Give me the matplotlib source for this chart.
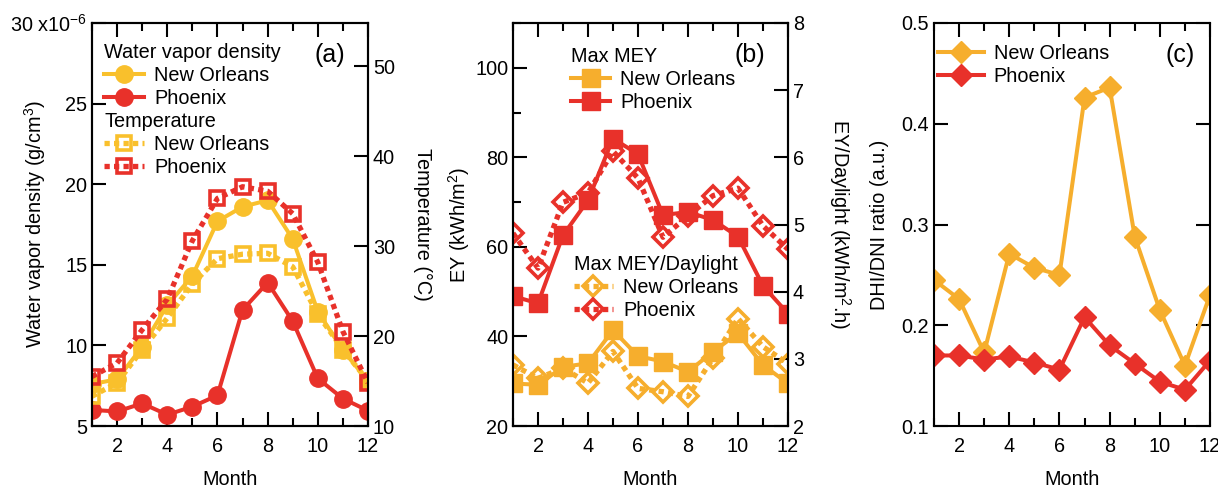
import matplotlib
matplotlib.use("Agg")
import matplotlib.pyplot as plt
from matplotlib.ticker import FixedLocator, FixedFormatter, MultipleLocator

plt.rcParams['font.family'] = ['Liberation Sans', 'DejaVu Sans']
plt.rcParams['mathtext.fontset'] = 'custom'
plt.rcParams['mathtext.rm'] = 'Liberation Sans'
plt.rcParams['mathtext.it'] = 'Liberation Sans:italic'

####### data

months = list(range(1, 13))

# (a) water vapor density (x1e-6 g/cm3) and temperature (C)
wv_no = [7.6, 7.9, 9.9, 12.5, 14.3, 17.7, 18.6, 19.0, 16.6, 12.1, 9.7, 7.8]
wv_ph = [6.0, 5.9, 6.4, 5.7, 6.2, 6.9, 12.2, 13.9, 11.5, 7.95, 6.7, 5.95]
temp_no = [13.3, 14.8, 18.5, 22.0, 25.8, 28.6, 29.1, 29.2, 27.7, 22.4, 18.5, 15.0]
temp_ph = [15.5, 17.0, 20.7, 24.1, 30.6, 35.3, 36.6, 36.1, 33.6, 28.2, 20.5, 14.8]

# (b) max MEY (kWh/m2) and max MEY / daylight (kWh/m2.h)
mey_no = [29.5, 29.2, 33.2, 34.0, 41.4, 35.6, 34.4, 32.1, 36.6, 40.7, 33.6, 29.5]
mey_ph = [49.0, 47.4, 62.6, 70.4, 84.2, 80.7, 67.1, 67.8, 66.0, 62.3, 51.3, 45.1]
meyd_no = [2.91, 2.71, 2.86, 2.64, 3.11, 2.56, 2.51, 2.44, 3.01, 3.60, 3.18, 2.93]
meyd_ph = [4.87, 4.35, 5.33, 5.47, 6.09, 5.69, 4.81, 5.13, 5.43, 5.54, 4.98, 4.63]

# (c) DHI/DNI ratio
ratio_no = [0.245, 0.226, 0.173, 0.271, 0.257, 0.250, 0.426, 0.436, 0.288, 0.215, 0.160, 0.230]
ratio_ph = [0.170, 0.170, 0.166, 0.169, 0.163, 0.156, 0.208, 0.180, 0.162, 0.144, 0.136, 0.165]

yellow = '#F9C02C'
orange = '#F6AE2D'
red = '#E8312A'

FS = 14.3
TFS = 14.3
LW = 2.9
dots = (0, (1.0, 0.8))

fig = plt.figure(figsize=(12.18, 4.9), dpi=100)
bot, top = 1 - 426 / 490, 1 - 23 / 490
axa = fig.add_axes([92 / 1218, bot, 276 / 1218, top - bot])
axb = fig.add_axes([513 / 1218, bot, 275 / 1218, top - bot])
axc = fig.add_axes([934 / 1218, bot, 276 / 1218, top - bot])
axa2 = axa.twinx()
axb2 = axb.twinx()


def style(ax):
    for s in ax.spines.values():
        s.set_linewidth(1.5)
    ax.tick_params(which='both', direction='in', width=1.5, labelsize=TFS)
    ax.tick_params(which='major', length=10)
    ax.tick_params(which='minor', length=6)


def xstyle(ax):
    ax.set_xlim(1, 12)
    ax.xaxis.set_major_locator(MultipleLocator(2))
    ax.xaxis.set_minor_locator(MultipleLocator(1))
    ax.tick_params(axis='x', which='both', top=True, pad=8)
    ax.set_xlabel('Month', fontsize=FS, labelpad=10)


def ylab(ax, text, x, rot=90):
    ax.set_ylabel(text, fontsize=FS, rotation=rot)
    ax.yaxis.label.set_verticalalignment('center')
    ax.yaxis.set_label_coords(x, 0.5)


####### (a)
axa.plot(months, wv_no, '-o', color=yellow, lw=LW, ms=12.5, label='New Orleans')
axa.plot(months, wv_ph, '-o', color=red, lw=LW, ms=12.5, label='Phoenix')
axa2.plot(months, temp_no, 's', ls=dots, color=yellow, lw=3.8, ms=10.5, mfc='none', mew=2.6,
          label='New Orleans')
axa2.plot(months, temp_ph, 's', ls=dots, color=red, lw=3.8, ms=10.5, mfc='none', mew=2.6,
          label='Phoenix')
axa.set_ylim(5, 30)
axa.yaxis.set_major_locator(FixedLocator([5, 10, 15, 20, 25, 30]))
axa.yaxis.set_major_formatter(FixedFormatter(['5', '10', '15', '20', '25', '30 x10$^{-6}$']))
axa2.set_ylim(10, 54.8)
axa2.yaxis.set_major_locator(FixedLocator([10, 20, 30, 40, 50]))
for ax in (axa, axa2):
    style(ax)
xstyle(axa)
ylab(axa, 'Water vapor density (g/cm$^3$)', -0.205)
ylab(axa2, 'Temperature (°C)', 1.199, rot=270)
axa.text(0.86, 0.92, '(a)', transform=axa.transAxes, fontsize=18, ha='center', va='center')

leg_kw = dict(frameon=False, fontsize=FS, title_fontsize=FS, alignment='left',
              handlelength=2.0, handletextpad=0.5, borderpad=0, borderaxespad=0,
              labelspacing=0.2)
l1 = axa2.legend(*axa.get_legend_handles_labels(), title='Water vapor density',
                 loc='upper left', bbox_to_anchor=(0.045, 0.95), **leg_kw)
axa2.add_artist(l1)
axa2.legend(title='Temperature', loc='upper left', bbox_to_anchor=(0.045, 0.78), **leg_kw)

####### (b)
axb.plot(months, mey_no, '-s', color=orange, lw=LW, ms=13, label='New Orleans')
axb.plot(months, mey_ph, '-s', color=red, lw=LW, ms=13, label='Phoenix')
axb2.plot(months, meyd_no, 'D', ls=dots, color=orange, lw=3.8, ms=10.5, mfc='none', mew=2.6,
          label='New Orleans')
axb2.plot(months, meyd_ph, 'D', ls=dots, color=red, lw=3.8, ms=10.5, mfc='none', mew=2.6,
          label='Phoenix')
axb.set_ylim(20, 110)
axb.yaxis.set_major_locator(FixedLocator([20, 40, 60, 80, 100]))
axb.yaxis.set_minor_locator(MultipleLocator(10))
axb2.set_ylim(2, 8)
axb2.yaxis.set_major_locator(MultipleLocator(1))
for ax in (axb, axb2):
    style(ax)
xstyle(axb)
ylab(axb, 'EY (kWh/m$^2$)', -0.196)
ylab(axb2, 'EY/Daylight (kWh/m$^2$.h)', 1.189, rot=270)
axb.text(0.86, 0.92, '(b)', transform=axb.transAxes, fontsize=18, ha='center', va='center')

l2 = axb2.legend(*axb.get_legend_handles_labels(), title='Max MEY',
                 loc='upper left', bbox_to_anchor=(0.21, 0.94), **leg_kw)
axb2.add_artist(l2)
axb2.legend(title='Max MEY/Daylight', loc='upper left', bbox_to_anchor=(0.22, 0.425), **leg_kw)

####### (c)
axc.plot(months, ratio_no, '-D', color=orange, lw=LW, ms=11, label='New Orleans')
axc.plot(months, ratio_ph, '-D', color=red, lw=LW, ms=11, label='Phoenix')
axc.set_ylim(0.1, 0.5)
axc.set_yticks([0.1, 0.2, 0.3, 0.4, 0.5], ['0.1', '0.2', '0.3', '0.4', '0.5'])
style(axc)
axc.tick_params(axis='y', right=True)
xstyle(axc)
ylab(axc, 'DHI/DNI ratio (a.u.)', -0.199)
axc.text(0.89, 0.92, '(c)', transform=axc.transAxes, fontsize=18, ha='center', va='center')
axc.legend(loc='upper left', bbox_to_anchor=(0.015, 0.948), frameon=False, fontsize=FS,
           handlelength=2.3, handletextpad=0.5, borderpad=0, borderaxespad=0, labelspacing=0.2)

fig.savefig('out.png', dpi=100)
